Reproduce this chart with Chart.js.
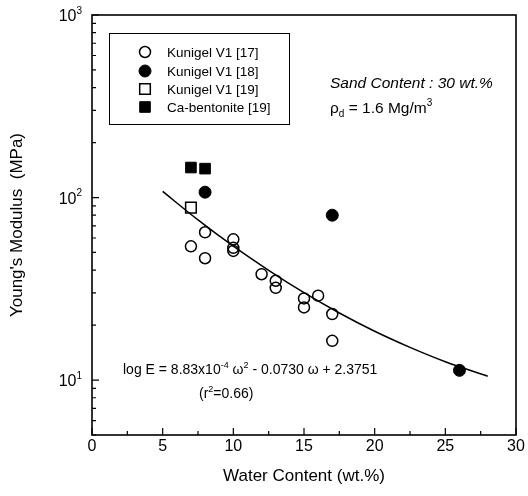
<!DOCTYPE html>
<html>
<head>
<meta charset="utf-8">
<script src="https://cdn.jsdelivr.net/npm/chart.js@4.4.0/dist/chart.umd.min.js"></script>
<style>
  html, body { margin: 0; padding: 0; background: #fff; }
  #wrap { width: 528px; height: 496px; }
</style>
</head>
<body>
<div id="wrap"><canvas id="chart" width="528" height="496"></canvas></div>
<script>
// values
var k17X = [7, 8, 8, 10, 10, 10, 12, 13, 13, 15, 15, 16, 17, 17];
var k17Y = [54, 64.5, 46.5, 59, 53, 51, 38, 35, 32, 28, 25, 29, 23, 16.4];
var k18X = [8, 17, 26];
var k18Y = [107, 80, 11.3];
var k19X = [7];
var k19Y = [88];
var caX = [7, 8];
var caY = [146, 144];
var fitX = [5, 7.5, 10, 12.5, 15, 17.5, 20, 22.5, 25, 28];
var fitY = [108, 75.4, 54.1, 39.9, 30.1, 23.3, 18.5, 15.1, 12.6, 10.5];

var xTicks = [0, 5, 10, 15, 20, 25, 30];
var xMinorTicks = [2.5, 7.5, 12.5, 17.5, 22.5, 27.5];
var yTicks = [10, 100, 1000];
var yTickExp = ["1", "2", "3"];
var yMinorTicks = [5, 6, 7, 8, 9, 20, 30, 40, 50, 60, 70, 80, 90, 200, 300, 400, 500, 600, 700, 800, 900];

var FONT = "'Liberation Sans', Arial, sans-serif";

function pts(xs, ys) {
    var res = [];
    for (var i = 0; i < xs.length; ++i) res.push({ x: xs[i], y: ys[i] });
    return res;
}

function drawParts(ctx, parts, x, y, size) {
    // parts: [text, mode, style] where mode is "", "sup" or "sub"
    ctx.textBaseline = "alphabetic";
    ctx.textAlign = "left";
    parts.forEach(function (p) {
        var small = p[1] ? Math.round(size * 0.62) : size;
        ctx.font = (p[2] || "") + small + "px " + FONT;
        var dy = p[1] === "sup" ? -size * 0.45 : p[1] === "sub" ? size * 0.25 : 0;
        ctx.fillText(p[0], x, y + dy);
        x += ctx.measureText(p[0]).width;
    });
}

var annotate = {
    id: "annotate",
    afterDraw: function (chart) {
        var ctx = chart.ctx, a = chart.chartArea, xs = chart.scales.x, ys = chart.scales.y;
        ctx.save();
        ctx.strokeStyle = "#000";
        ctx.fillStyle = "#000";
        ctx.lineWidth = 1.6;
        ctx.strokeRect(a.left, a.top, a.right - a.left, a.bottom - a.top);

        // inward tick marks
        ctx.lineWidth = 1.2;
        ctx.beginPath();
        xTicks.forEach(function (v) {
            var px = xs.getPixelForValue(v);
            ctx.moveTo(px, a.bottom); ctx.lineTo(px, a.bottom - 7);
        });
        xMinorTicks.forEach(function (v) {
            var px = xs.getPixelForValue(v);
            ctx.moveTo(px, a.bottom); ctx.lineTo(px, a.bottom - 4);
        });
        yTicks.forEach(function (v) {
            var py = ys.getPixelForValue(v);
            ctx.moveTo(a.left, py); ctx.lineTo(a.left + 7, py);
        });
        yMinorTicks.forEach(function (v) {
            var py = ys.getPixelForValue(v);
            ctx.moveTo(a.left, py); ctx.lineTo(a.left + 4, py);
        });
        ctx.stroke();

        // y tick labels as powers of ten
        yTicks.forEach(function (v, i) {
            var py = ys.getPixelForValue(v);
            ctx.font = "16px " + FONT;
            var w = ctx.measureText("10").width;
            ctx.font = "10px " + FONT;
            w += ctx.measureText(yTickExp[i]).width;
            drawParts(ctx, [["10", ""], [yTickExp[i], "sup"]], a.left - 10 - w, py + 6, 16);
        });

        // legend box
        ctx.lineWidth = 1;
        ctx.strokeRect(109.5, 33.5, 180, 91);
        var rows = [52, 71, 89, 107];
        chart.data.datasets.forEach(function (ds, i) {
            if (!ds.label) return;
            ctx.fillStyle = ds.pointBackgroundColor;
            ctx.strokeStyle = ds.pointBorderColor;
            ctx.lineWidth = ds.pointBorderWidth;
            Chart.helpers.drawPoint(ctx, {
                pointStyle: ds.pointStyle,
                radius: ds.pointRadius,
                rotation: 0,
                borderWidth: ds.pointBorderWidth
            }, 145, rows[i]);
            ctx.fillStyle = "#000";
            ctx.font = "13.5px " + FONT;
            ctx.textAlign = "left";
            ctx.textBaseline = "middle";
            ctx.fillText(ds.label, 167, rows[i] + 1);
        });

        ctx.fillStyle = "#000";
        drawParts(ctx, [["Sand Content : 30 wt.%", "", "italic "]], 330, 88, 15.5);
        drawParts(ctx, [["\u03c1", ""], ["d", "sub"], [" = 1.6 Mg/m", ""], ["3", "sup"]], 330, 113, 15.5);
        drawParts(ctx, [["log E = 8.83x10", ""], ["-4", "sup"], [" \u03c9", ""], ["2", "sup"],
            [" - 0.0730 \u03c9 + 2.3751", ""]], 123, 374, 14);
        drawParts(ctx, [["(r", ""], ["2", "sup"], ["=0.66)", ""]], 199, 398, 14);
        ctx.restore();
    }
};

new Chart(document.getElementById("chart").getContext("2d"), {
    type: "scatter",
    data: {
        datasets: [
            {
                label: "Kunigel V1 [17]",
                data: pts(k17X, k17Y),
                pointStyle: "circle",
                pointRadius: 5.5,
                pointBackgroundColor: "rgba(255,255,255,0)",
                pointBorderColor: "#000",
                pointBorderWidth: 1.5,
            },
            {
                label: "Kunigel V1 [18]",
                data: pts(k18X, k18Y),
                pointStyle: "circle",
                pointRadius: 6,
                pointBackgroundColor: "#000",
                pointBorderColor: "#000",
                pointBorderWidth: 1,
            },
            {
                label: "Kunigel V1 [19]",
                data: pts(k19X, k19Y),
                pointStyle: "rect",
                pointRadius: 7.5,
                pointBackgroundColor: "rgba(255,255,255,0)",
                pointBorderColor: "#000",
                pointBorderWidth: 1.5,
            },
            {
                label: "Ca-bentonite [19]",
                data: pts(caX, caY),
                pointStyle: "rect",
                pointRadius: 7.5,
                pointBackgroundColor: "#000",
                pointBorderColor: "#000",
                pointBorderWidth: 1,
            },
            {
                type: "line",
                data: pts(fitX, fitY),
                borderColor: "#000",
                borderWidth: 1.5,
                pointRadius: 0,
                fill: false,
                showLine: true,
                cubicInterpolationMode: "monotone",
            },
        ],
    },
    options: {
        responsive: false,
        animation: false,
        layout: { padding: { top: 15, right: 12, left: 0, bottom: 0 } },
        plugins: { legend: { display: false }, tooltip: { enabled: false } },
        scales: {
            x: {
                type: "linear",
                min: 0,
                max: 30,
                grid: { display: false, drawTicks: false },
                border: { display: false },
                afterBuildTicks: function (s) {
                    s.ticks = xTicks.map(function (v) { return { value: v }; });
                },
                afterFit: function (s) { s.height = 61; },
                ticks: { color: "#000", font: { size: 16, family: FONT }, padding: 2, maxRotation: 0 },
                title: {
                    display: true,
                    text: "Water Content (wt.%)",
                    color: "#000",
                    font: { size: 17, family: FONT },
                    padding: { top: 0, bottom: 9 },
                },
            },
            y: {
                type: "logarithmic",
                min: 5,
                max: 1000,
                grid: { display: false, drawTicks: false },
                border: { display: false },
                afterBuildTicks: function (s) {
                    s.ticks = yTicks.map(function (v) { return { value: v }; });
                },
                afterFit: function (s) { s.width = 92; },
                ticks: { display: false },
                title: {
                    display: true,
                    text: "Young's Modulus  (MPa)",
                    color: "#000",
                    font: { size: 17, family: FONT },
                    padding: { top: 7, bottom: 0 },
                },
            },
        },
    },
    plugins: [annotate],
});
</script>
</body>
</html>
